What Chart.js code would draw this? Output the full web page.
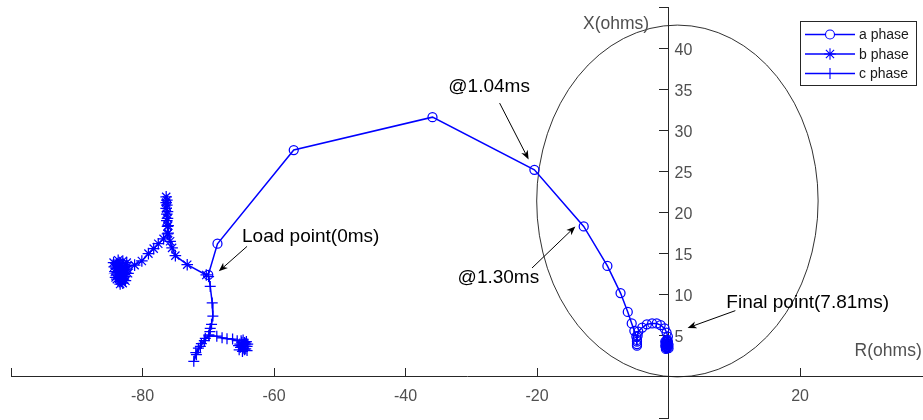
<!DOCTYPE html>
<html>
<head>
<meta charset="utf-8">
<script src="https://cdn.jsdelivr.net/npm/chart.js@4.4.1/dist/chart.umd.min.js"></script>
<style>
  html, body { margin: 0; padding: 0; background: #fff; }
  #wrap { width: 923px; height: 420px; }
</style>
</head>
<body>
<div id="wrap"><canvas id="rx" width="923" height="420"></canvas></div>
<script>
// impedance trajectories seen by the relay, R (ohms) vs X (ohms)
const aR = [-70.0, -68.6, -57.0, -35.9, -20.4, -12.9, -9.3, -7.3, -6.2, -5.6, -5.2, -4.9, -4.8, -4.8, -4.8, -4.8, -4.7, -4.6, -4.0, -3.3,
  -2.5, -1.8, -1.2, -0.6, -0.3, -0.1, -0.3, -0.2, -0.4, -0.1, -0.3, -0.2, -0.5, 0.0, -0.3, -0.1, -0.4, -0.2, -0.3,
  -0.5, 0.0, -0.2, -0.4, -0.1, -0.3, -0.2];
const aX = [12.4, 16.2, 27.6, 31.6, 25.2, 18.3, 13.5, 10.2, 7.9, 6.5, 5.6, 4.9, 4.3, 3.8, 4.0, 4.5, 5.0, 5.5, 6.0, 6.4,
  6.5, 6.5, 6.3, 5.9, 5.4, 4.9, 4.4, 3.9, 3.6, 4.1, 3.5, 4.3, 3.8, 3.9, 4.0, 3.6, 4.2, 3.7, 3.9,
  4.3, 3.5, 4.5, 3.4, 4.3, 3.7, 4.1];

const bR = [-70.3, -73.2, -75.0, -75.5, -75.8, -76.1, -76.2, -76.3, -76.3, -76.4, -76.4, -76.4, -76.3, -76.3, -76.2, -76.2, -76.1, -76.2,
  -76.8, -77.6, -78.3, -79.1, -80.1, -81.2,
  -82.4, -83.3, -84.0, -83.1, -82.6, -83.8, -83.3, -82.7, -83.9, -82.4, -83.5, -83.0, -82.8, -84.2, -83.2,
  -82.9, -83.6, -84.4, -83.7, -82.2, -83.4, -82.6, -84.1, -83.0, -82.3, -83.6, -84.3, -82.9, -83.2, -83.9];
const bX = [12.4, 13.65, 14.75, 15.7, 16.5, 17.5, 18.3, 19.0, 19.8, 20.5, 21.2, 21.9, 21.5, 20.9, 20.1, 19.3, 18.4, 17.4,
  16.8, 16.2, 15.6, 15.0, 14.1, 13.6,
  13.4, 13.8, 13.2, 12.6, 12.9, 12.4, 11.8, 12.2, 13.7, 13.9, 12.0, 11.4, 13.1, 12.8, 13.2,
  11.9, 13.0, 13.9, 14.2, 12.6, 11.3, 11.7, 12.1, 14.1, 13.1, 12.7, 13.4, 12.5, 11.6, 11.9];

const cR = [-69.95, -69.7, -69.4, -69.3, -69.5, -69.7, -69.75, -69.9, -70.45, -71.05, -71.5, -71.9, -72.2, -71.8, -71.2, -70.6,
  -69.9, -68.7, -67.9, -67.15, -66.3, -65.6,
  -64.7, -64.2, -65.1, -64.5, -64.9, -64.1, -64.7, -65.2, -64.4, -64.8, -64.3, -65.4, -64.0, -64.6, -65.0, -64.3,
  -64.9, -64.5, -65.3, -64.1];
const cX = [12.2, 11.0, 9.0, 7.4, 6.4, 5.9, 5.5, 5.1, 4.7, 4.05, 3.5, 2.95, 1.9, 2.7, 3.7, 4.4,
  5.0, 4.95, 4.75, 4.65, 4.6, 4.4,
  3.9, 4.3, 3.6, 3.3, 4.2, 3.7, 4.5, 4.0, 3.9, 3.1, 4.1, 3.8, 4.0, 3.5, 4.4, 3.4,
  3.7, 4.2, 3.3, 3.2];

// mho characteristic: circle through the origin
const mhoCenter = [1.35, 21.4];
const mhoRadius = 21.4;

const xTickLabels = [-80, -60, -40, -20, 20];
const yTickLabels = [5, 10, 15, 20, 25, 30, 35, 40];

const noteText = ['Load point(0ms)', '@1.04ms', '@1.30ms', 'Final point(7.81ms)'];
const noteAt = [[-64.86, 16.39], [-33.49, 34.72], [-32.08, 11.46], [8.79, 8.39]];
const arrowTail = [[-64.1, 15.88], [-25.69, 33.31], [-20.76, 13.25], [10.16, 8.06]];
const arrowHead = [[-68.4, 12.84], [-21.28, 26.45], [-14.17, 18.31], [2.9, 5.96]];

const FONT = '"Liberation Sans", Arial, sans-serif';
const BLUE = '#0000ff';
const AXIS = '#262626';
const TICK_TEXT = '#505050';

const toPoints = (rs, xs) => rs.map((r, i) => ({ x: r, y: xs[i] }));

function phase(label, rs, xs, pointStyle, radius) {
  return {
    label,
    data: toPoints(rs, xs),
    showLine: true,
    borderColor: BLUE,
    borderWidth: 1.5,
    pointStyle,
    pointRadius: radius,
    pointHoverRadius: radius,
    pointBorderWidth: 1.25,
    pointBorderColor: BLUE,
    pointBackgroundColor: 'rgba(0,0,0,0)',
    tension: 0,
  };
}

function drawArrow(ctx, x1, y1, x2, y2) {
  const ang = Math.atan2(y2 - y1, x2 - x1);
  const len = 9, half = 3.6, back = 6.5;
  const c = Math.cos(ang), s = Math.sin(ang);
  ctx.beginPath();
  ctx.moveTo(x1, y1);
  ctx.lineTo(x2 - c * back, y2 - s * back);
  ctx.stroke();
  ctx.beginPath();
  ctx.moveTo(x2, y2);
  ctx.lineTo(x2 - c * len + s * half, y2 - s * len - c * half);
  ctx.lineTo(x2 - c * back, y2 - s * back);
  ctx.lineTo(x2 - c * len - s * half, y2 - s * len + c * half);
  ctx.closePath();
  ctx.fill();
}

const rxDecor = {
  id: 'rxDecor',
  beforeDatasetsDraw(chart) {
    const { ctx, scales: { x, y } } = chart;
    const cx = x.getPixelForValue(mhoCenter[0]);
    const cy = y.getPixelForValue(mhoCenter[1]);
    const rx = x.getPixelForValue(mhoCenter[0] + mhoRadius) - cx;
    const ry = cy - y.getPixelForValue(mhoCenter[1] + mhoRadius);
    ctx.save();
    ctx.strokeStyle = '#1a1a1a';
    ctx.lineWidth = 0.9;
    ctx.beginPath();
    ctx.ellipse(cx, cy, rx, ry, 0, 0, Math.PI * 2);
    ctx.stroke();
    ctx.restore();
  },
  afterDraw(chart) {
    const { ctx, scales: { x, y } } = chart;
    const px = (p) => [x.getPixelForValue(p[0]), y.getPixelForValue(p[1])];
    const x0 = x.getPixelForValue(0);
    const y0 = y.getPixelForValue(0);
    ctx.save();

    // tick labels: R below the horizontal axis, X to the right of the vertical one
    ctx.fillStyle = TICK_TEXT;
    ctx.font = `16px ${FONT}`;
    ctx.textBaseline = 'alphabetic';
    ctx.textAlign = 'center';
    xTickLabels.forEach((v) => ctx.fillText(String(v), x.getPixelForValue(v), y0 + 24.5));
    ctx.textAlign = 'left';
    yTickLabels.forEach((v) => ctx.fillText(String(v), x0 + 6, y.getPixelForValue(v) + 6.5));

    // axis titles
    ctx.font = `17.5px ${FONT}`;
    let p = px([-13.0, 42.29]);
    ctx.fillText('X(ohms)', p[0], p[1]);
    p = px([28.3, 2.59]);
    ctx.fillText('R(ohms)', p[0], p[1]);

    // annotations with arrows
    ctx.fillStyle = '#000';
    ctx.strokeStyle = '#000';
    ctx.lineWidth = 1;
    ctx.font = `19px ${FONT}`;
    noteText.forEach((t, i) => {
      const at = px(noteAt[i]);
      ctx.fillText(t, at[0], at[1]);
      const a = px(arrowTail[i]);
      const b = px(arrowHead[i]);
      drawArrow(ctx, a[0], a[1], b[0], b[1]);
    });

    // legend box
    const lx = 800.5, ly = 21.5, lw = 116, lh = 64;
    ctx.fillStyle = '#fff';
    ctx.fillRect(lx, ly, lw, lh);
    ctx.strokeStyle = AXIS;
    ctx.lineWidth = 1;
    ctx.strokeRect(lx, ly, lw, lh);
    ctx.font = `14px ${FONT}`;
    ctx.textBaseline = 'middle';
    chart.data.datasets.forEach((ds, i) => {
      const ry = 34.5 + i * 19.5;
      ctx.strokeStyle = BLUE;
      ctx.lineWidth = 1.4;
      ctx.beginPath();
      ctx.moveTo(805, ry);
      ctx.lineTo(855, ry);
      ctx.stroke();
      ctx.lineWidth = 1.1;
      ctx.fillStyle = '#fff';
      Chart.helpers.drawPoint(ctx, { pointStyle: ds.pointStyle, radius: ds.pointRadius, rotation: 0, borderWidth: 1 }, 830, ry);
      ctx.fillStyle = '#1a1a1a';
      ctx.fillText(ds.label, 859, ry + 1);
    });
    ctx.restore();
  },
};

new Chart(document.getElementById('rx'), {
  type: 'scatter',
  data: {
    datasets: [
      phase('a phase', aR, aX, 'circle', 4.5),
      phase('b phase', bR, bX, 'star', 5.8),
      phase('c phase', cR, cX, 'cross', 5.5),
    ],
  },
  options: {
    responsive: false,
    animation: false,
    devicePixelRatio: 1,
    layout: { autoPadding: false, padding: { left: 11, right: 0, top: 7, bottom: 2 } },
    plugins: { legend: { display: false }, tooltip: { enabled: false } },
    scales: {
      x: {
        type: 'linear',
        min: -100,
        max: 38.7,
        position: { y: 0 },
        afterFit: (s) => { s.height = 0; },
        border: { color: AXIS, width: 1 },
        grid: { drawOnChartArea: false, drawTicks: true, tickLength: -9, color: AXIS, lineWidth: 1 },
        ticks: { stepSize: 20, includeBounds: false, autoSkip: false, display: false },
      },
      y: {
        type: 'linear',
        min: -5,
        max: 45,
        position: { x: 0 },
        afterFit: (s) => { s.width = 0; },
        border: { color: AXIS, width: 1 },
        grid: { drawOnChartArea: false, drawTicks: true, tickLength: 9, color: AXIS, lineWidth: 1 },
        ticks: { stepSize: 5, includeBounds: false, display: false },
      },
    },
  },
  plugins: [rxDecor],
});
</script>
</body>
</html>
